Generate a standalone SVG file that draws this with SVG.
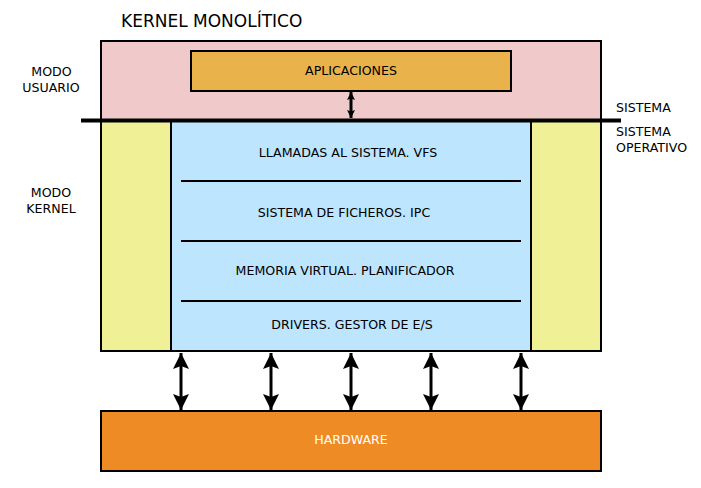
<svg xmlns="http://www.w3.org/2000/svg" width="701" height="488" viewBox="0 0 701 488">
<defs>
<marker id="ah" viewBox="0 0 16 16" refX="16" refY="8" markerWidth="16" markerHeight="16" markerUnits="userSpaceOnUse" orient="auto-start-reverse">
<path d="M0,0 L16,8 L0,16 L3,8 Z" fill="#000"/>
</marker>
<marker id="ahs" viewBox="0 0 10 10" refX="10" refY="5" markerWidth="9" markerHeight="8" markerUnits="userSpaceOnUse" orient="auto-start-reverse">
<path d="M0,0 L10,5 L0,10 L2,5 Z" fill="#000"/>
</marker>
</defs>
<style>
text{font-family:"DejaVu Sans",sans-serif;font-size:12.6px;fill:#000}
.c{text-anchor:middle}
.box{stroke:#000;stroke-width:2}
.sep{stroke:#000;stroke-width:2}
.conn{stroke:#000;stroke-width:3;fill:none}
</style>
<rect width="701" height="488" fill="#fff"/>
<text x="121" y="27" style="font-size:17px">KERNEL MONOLÍTICO</text>
<g id="usuario">
<rect class="box" x="101" y="41" width="500" height="80" fill="#f0caca"/>
</g>
<g id="kernel">
<rect class="box" x="101" y="120" width="500" height="231" fill="#f0f096"/>
</g>
<g id="nucleo">
<rect class="box" x="171" y="120" width="360" height="231" fill="#bde5fe"/>
<line class="sep" x1="181" y1="181" x2="521" y2="181"/>
<line class="sep" x1="181" y1="241" x2="521" y2="241"/>
<line class="sep" x1="181" y1="301" x2="521" y2="301"/>
<text class="c" x="348" y="157">LLAMADAS AL SISTEMA. VFS</text>
<text class="c" x="344" y="217">SISTEMA DE FICHEROS. IPC</text>
<text class="c" x="345" y="275">MEMORIA VIRTUAL. PLANIFICADOR</text>
<text class="c" x="352" y="329">DRIVERS. GESTOR DE E/S</text>
</g>
<g id="aplicaciones">
<rect class="box" x="191" y="51" width="320" height="40" fill="#e9b24a"/>
<text class="c" x="351" y="75">APLICACIONES</text>
</g>
<g id="hardware">
<rect class="box" x="101" y="411" width="500" height="60" fill="#ee8b24"/>
<text class="c" x="351" y="444" style="fill:#fff">HARDWARE</text>
</g>
<line x1="81" y1="120.5" x2="621" y2="120.5" stroke="#000" stroke-width="4"/>
<g id="labels">
<text class="c" x="51.5" y="76">MODO</text>
<text class="c" x="51" y="92">USUARIO</text>
<text class="c" x="51" y="197">MODO</text>
<text class="c" x="51" y="213">KERNEL</text>
<text x="616" y="112">SISTEMA</text>
<text x="616" y="136">SISTEMA</text>
<text x="616" y="152">OPERATIVO</text>
</g>
<g id="connectors">
<line class="conn" x1="351" y1="92" x2="351" y2="118" stroke-width="2" marker-start="url(#ahs)" marker-end="url(#ahs)"/>
<line class="conn" x1="181" y1="353" x2="181" y2="410" marker-start="url(#ah)" marker-end="url(#ah)"/>
<line class="conn" x1="271" y1="353" x2="271" y2="410" marker-start="url(#ah)" marker-end="url(#ah)"/>
<line class="conn" x1="351" y1="353" x2="351" y2="410" marker-start="url(#ah)" marker-end="url(#ah)"/>
<line class="conn" x1="431" y1="353" x2="431" y2="410" marker-start="url(#ah)" marker-end="url(#ah)"/>
<line class="conn" x1="521" y1="353" x2="521" y2="410" marker-start="url(#ah)" marker-end="url(#ah)"/>
</g>
</svg>
